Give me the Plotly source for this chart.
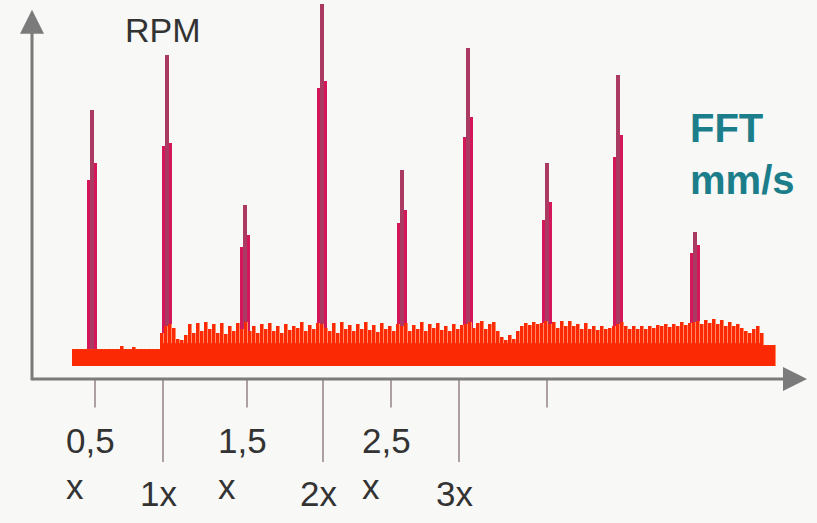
import numpy as np
import plotly.graph_objects as go

# Frequency axis in bins (arbitrary units), amplitude in % of full scale
tick_freq = [63, 131, 215, 291, 359, 427, 515]
tick_labels = ["0,5<br>x", "1x", "1,5<br>x", "2x", "2,5<br>x", "3x", ""]
tick_long = [False, True, False, True, False, True, False]

# Harmonic peaks: centre bin, tip amplitude, right / left shoulder amplitude
peak_freq = [60, 135, 213, 290, 370, 436, 515, 586, 663]
peak_amp = [70.0, 85.0, 44.0, 99.0, 53.6, 86.9, 55.5, 79.5, 36.6]
right_shoulder = [55.5, 61.0, 35.8, 78.0, 42.6, 68.0, 44.8, 63.1, 33.0]
left_shoulder = [50.8, 60.0, 32.5, 76.0, 39.0, 62.6, 39.9, 57.1, 30.9]

# Noise floor of the spectrum, one value every 4 bins from bin 40 to bin 740
noise_amp = [
    4.6, 4.6, 4.6, 4.6, 4.6, 4.6, 4.6, 4.6, 4.6, 4.6,
    4.6, 4.6, 5.5, 4.6, 4.6, 5.3, 4.6, 4.6, 4.6, 4.6,
    4.6, 4.6, 9.0, 11.0, 11.5, 10.5, 7.5, 7.0, 8.5, 11.5,
    9.0, 11.8, 9.5, 12.0, 10.0, 11.5, 9.0, 11.8, 8.8, 11.0,
    9.5, 11.8, 10.0, 12.0, 9.5, 11.0, 9.0, 11.5, 10.0, 11.8,
    9.5, 10.8, 9.0, 11.5, 9.8, 11.0, 10.5, 12.0, 9.5, 11.2,
    10.0, 11.8, 11.5, 10.5, 9.5, 11.8, 9.0, 12.0, 10.0, 11.2,
    9.5, 11.5, 10.2, 12.0, 9.8, 11.2, 9.2, 11.8, 10.0, 11.0,
    9.5, 11.5, 10.8, 11.8, 9.6, 11.2, 10.0, 12.0, 9.5, 11.5,
    10.5, 11.8, 9.8, 10.8, 9.5, 11.5, 10.0, 11.2, 11.5, 12.0,
    10.5, 11.8, 12.3, 10.0, 11.5, 12.0, 9.5, 8.0, 7.2, 8.5,
    7.5, 9.5, 11.0, 11.8, 11.2, 12.0, 11.5, 11.8, 12.2, 11.5,
    12.0, 10.5, 12.2, 11.0, 12.3, 10.8, 11.5, 10.2, 11.8, 10.0,
    11.0, 9.8, 10.8, 10.0, 10.5, 11.0, 11.5, 12.0, 10.8, 10.2,
    11.0, 10.0, 10.8, 10.2, 11.0, 10.5, 11.2, 10.8, 11.5, 10.6,
    11.5, 11.0, 12.0, 11.2, 11.8, 12.0, 12.3, 11.5, 12.5, 11.8,
    12.8, 11.5, 12.5, 11.0, 12.0, 10.8, 11.5, 10.5, 9.5, 9.0,
    10.2, 11.0, 9.0, 5.7, 5.7, 5.7,
]
noise_freq = np.arange(40, 741, 4)
assert len(noise_freq) == len(noise_amp)

# Solid base level under the noise comb
base_freq = [40, 128, 728, 740]
base_amp = [4.6, 6.2, 5.7, 5.7]

PEAK = "#d3175a"
PEAK_TIP = "#ab3a62"
NOISE = "#fb2a04"
NOISE_GAP = "#ff8a64"
AXIS = "#7b7b7b"
TEXT = "#333333"
TEAL = "#1b7e8a"
BG = "#f8f8f6"
FONT = "Liberation Sans, Arial, sans-serif"

X_MAX = 775
Y_MIN, Y_MAX = -3.55, 100
SH_W = 5     # shoulder bar width in bins
BIN_W = 4    # spacing of the noise bins

fig = go.Figure()

fc = np.array(peak_freq, dtype=float)
fig.add_trace(go.Bar(x=fc - SH_W / 2, y=left_shoulder, width=SH_W,
                     marker=dict(color=PEAK, line=dict(width=0))))
fig.add_trace(go.Bar(x=fc + SH_W / 2, y=right_shoulder, width=SH_W,
                     marker=dict(color=PEAK, line=dict(width=0))))
fig.add_trace(go.Bar(x=fc, y=peak_amp, width=3.4,
                     marker=dict(color=PEAK_TIP, line=dict(width=0))))

# Noise: lighter envelope under a dense comb of spectral lines
fig.add_trace(go.Bar(x=noise_freq + BIN_W / 2, y=noise_amp, width=BIN_W,
                     marker=dict(color=NOISE_GAP, line=dict(width=0))))
fig.add_trace(go.Bar(x=noise_freq + 1.5, y=noise_amp, width=3.0,
                     marker=dict(color=NOISE, line=dict(width=0))))
# Solid base of the noise band
fig.add_trace(go.Scatter(x=base_freq, y=base_amp, mode="lines",
                         line=dict(width=0, shape="hv", color=NOISE),
                         fill="tozeroy", fillcolor=NOISE))

# Ticks below the frequency axis
for f, long_tick in zip(tick_freq, tick_long):
    fig.add_shape(type="line", xref="x", yref="paper",
                  x0=f, x1=f, y0=0, y1=-0.219 if long_tick else -0.075,
                  line=dict(color="#9a8a90", width=1.6))

for f, lab in zip(tick_freq, tick_labels):
    if not lab:
        continue
    two_line = "<br>" in lab
    fig.add_annotation(x=f, xref="x", yref="paper",
                       y=-0.105 if two_line else -0.245,
                       xanchor="center", yanchor="top", xshift=-5,
                       text=lab, align="left", showarrow=False,
                       font=dict(family=FONT, size=35, color=TEXT))

# Axis arrows
fig.add_annotation(x=0, y=0.974, xref="paper", yref="paper",
                   ax=0, ay=372, axref="pixel", ayref="pixel",
                   showarrow=True, arrowhead=2, arrowsize=1.6,
                   arrowwidth=3, arrowcolor=AXIS, text="")
fig.add_annotation(x=1.0, y=0, xref="paper", yref="paper",
                   ax=-777, ay=0, axref="pixel", ayref="pixel",
                   showarrow=True, arrowhead=2, arrowsize=1.6,
                   arrowwidth=3, arrowcolor=AXIS, text="")

fig.add_annotation(x=0.169, y=0.921, xref="paper", yref="paper",
                   xanchor="center", yanchor="middle",
                   text="RPM", showarrow=False,
                   font=dict(family=FONT, size=34, color=TEXT))
fig.add_annotation(x=0.846, y=0.725, xref="paper", yref="paper",
                   xanchor="left", yanchor="top", align="left",
                   text="<b>FFT<br>mm/s</b>", showarrow=False,
                   font=dict(family=FONT, size=40, color=TEAL))

fig.update_layout(
    width=817, height=523,
    margin=dict(l=32, r=10, t=0, b=144),
    paper_bgcolor=BG, plot_bgcolor=BG,
    showlegend=False, barmode="overlay", bargap=0,
    xaxis=dict(range=[0, X_MAX], visible=False, fixedrange=True),
    yaxis=dict(range=[Y_MIN, Y_MAX], visible=False, fixedrange=True),
)

fig.write_html("out.html")
